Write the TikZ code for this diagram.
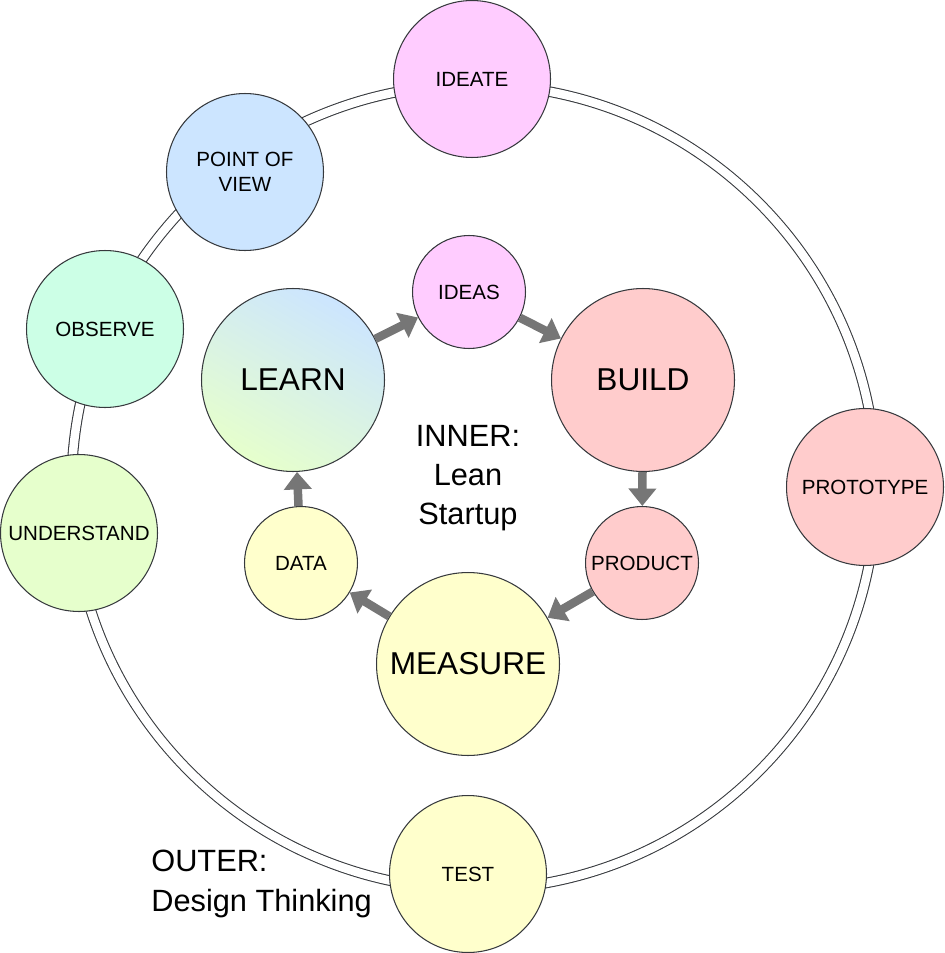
\documentclass[tikz,border=0pt]{standalone}
\usepackage{fontspec}
\setmainfont{Liberation Sans}
\usetikzlibrary{automata, arrows.meta}
\definecolor{pinkfill}{HTML}{FFCCFF}
\definecolor{bluefill}{HTML}{CCE5FF}
\definecolor{mintfill}{HTML}{CCFFE6}
\definecolor{limefill}{HTML}{E6FFCC}
\definecolor{redfill}{HTML}{FFCCCC}
\definecolor{yellowfill}{HTML}{FFFFCC}
\definecolor{edgegray}{HTML}{36393D}
\definecolor{arrowgray}{HTML}{767676}
\tikzset{
x=0.02cm, y=-0.02cm, % one unit is one pixel of the sketch, y runs downwards
every state/.style={draw=edgegray, line width=0.6pt, inner sep=0pt, align=center}, % sets the properties for each 'state' node
outer/.style={minimum size=3.14cm, font=\fontsize{11.7}{14}\selectfont}, % design thinking steps
big/.style={minimum size=3.66cm, font=\fontsize{18}{22}\selectfont}, % lean startup steps
small/.style={minimum size=2.26cm, font=\fontsize{11.7}{14}\selectfont}, % lean startup outputs
flow/.style={line width=0.17cm, draw=arrowgray, -{Triangle[length=0.35cm, width=0.54cm]}}, % the fat grey arrows
note/.style={inner sep=0pt, font=\fontsize{17.5}{22}\selectfont}, % captions
}

\begin{document}
\begin{tikzpicture}
  \useasboundingbox (0,0) rectangle (944,953);

  % outer ring
  \draw[edgegray, line width=0.6pt, double, double distance=0.17cm] (474,487) circle[radius=8.05cm];

  \node[state, outer, fill=pinkfill] (ideate) at (472,79) {IDEATE};
  \node[state, outer, fill=bluefill] (pov) at (245,172) {POINT OF\\VIEW};
  \node[state, outer, fill=mintfill] (observe) at (105,329) {OBSERVE};
  \node[state, outer, fill=limefill] (understand) at (79,533) {UNDERSTAND};
  \node[state, outer, fill=redfill] (prototype) at (865,487) {PROTOTYPE};
  \node[state, outer, fill=yellowfill] (test) at (468,874) {TEST};

  \node[state, small, fill=pinkfill] (ideas) at (469,292) {IDEAS};
  \node[state, big, fill=redfill] (build) at (643,380) {BUILD};
  \node[state, small, fill=redfill] (product) at (642,563) {PRODUCT};
  \node[state, big, fill=yellowfill] (measure) at (468,664) {MEASURE};
  \node[state, small, fill=yellowfill] (data) at (301,563) {DATA};
  \node[state, big, top color=bluefill, bottom color=limefill, shading angle=-30] (learn) at (293,380) {LEARN};

  \draw[flow] (learn) -- (ideas);
  \draw[flow] (ideas) -- (build);
  \draw[flow] (build) -- (product);
  \draw[flow] (product) -- (measure);
  \draw[flow] (measure) -- (data);
  \draw[flow] (data) -- (learn);

  \node[note, align=center] (inner) at (468,478) {INNER:\\Lean\\Startup};
  \node[note, align=left, anchor=west, font=\fontsize{17.5}{23}\selectfont] (outer) at (151,884) {OUTER:\\Design Thinking};
\end{tikzpicture}
\end{document}
